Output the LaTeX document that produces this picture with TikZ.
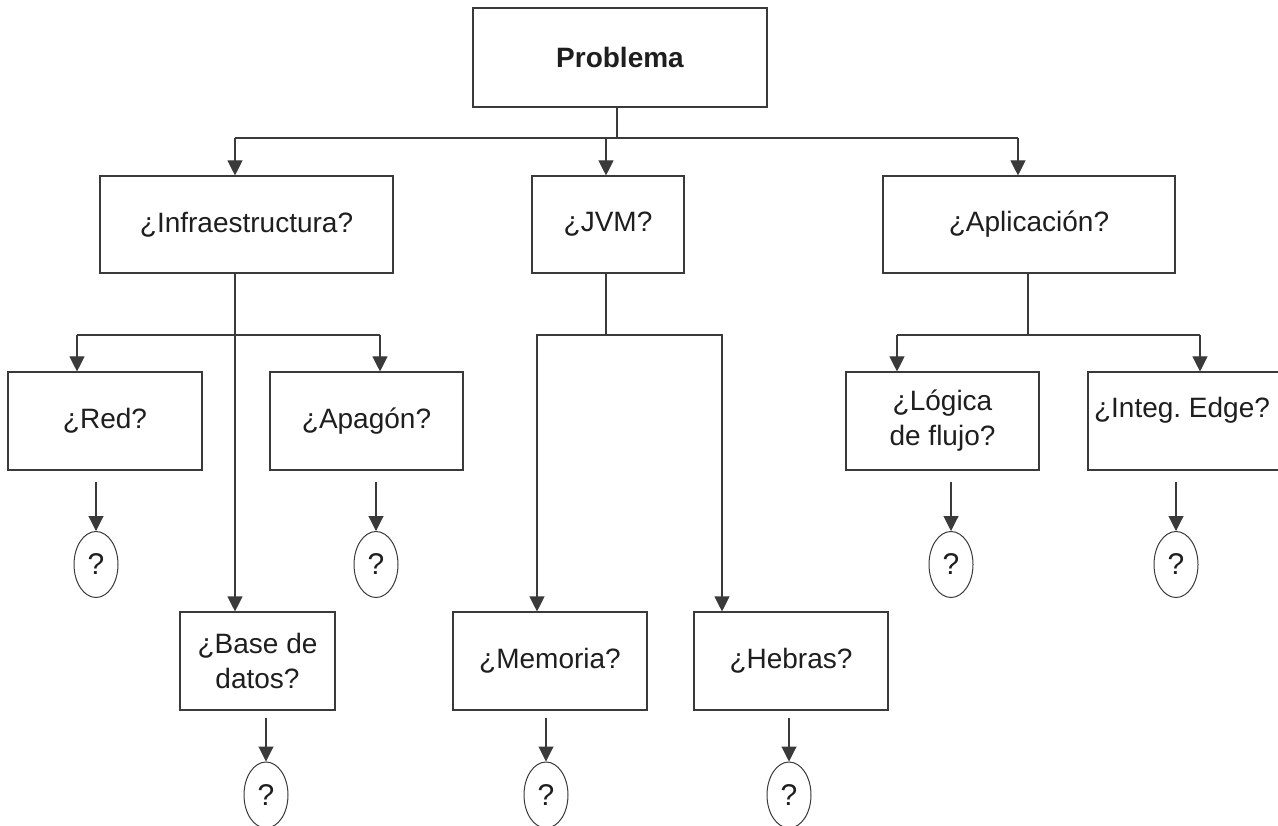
\documentclass[tikz,border=0pt]{standalone}
\usepackage{fontspec}
\setmainfont{Liberation Sans}
\usetikzlibrary{arrows.meta,shapes.geometric}
\definecolor{linec}{HTML}{3A3A3A}
\definecolor{textc}{HTML}{1E1E1E}
\frenchspacing
\begin{document}
\begin{tikzpicture}[x=1pt,y=-1pt,
  box/.style={draw=linec, line width=1.1pt, rectangle, inner sep=0pt, text=textc, align=center,
    font=\fontsize{28}{35}\selectfont},
  qell/.style={draw=linec, line width=1pt, ellipse, inner sep=0pt, minimum width=44pt, minimum height=66pt,
    text=textc, font=\fontsize{30}{34}\selectfont},
  conn/.style={draw=linec, line width=1.1pt},
  arr/.style={conn, -{Triangle[length=15pt,width=15pt]}},
  gaparr/.style={arr, shorten <=11pt}
]
\useasboundingbox (0,0) rectangle (1278,826);
\clip (0,0) rectangle (1278,826);
\fill[white] (0,0) rectangle (1278,826);

% boxes
\node[box, minimum width=294pt, minimum height=99pt] (prob) at (620,57.5) {\bfseries Problema};
\node[box, minimum width=293pt, minimum height=97pt] (infra) at (246.5,224.5) {¿Infraestructura?};
\node[box, minimum width=152pt, minimum height=97pt] (jvm) at (608,224.5) {¿JVM?};
\node[box, minimum width=292pt, minimum height=97pt] (apli) at (1029,224.5) {¿Aplicación?};
\node[box, minimum width=194pt, minimum height=98pt] (red) at (105,421) {¿Red?};
\node[box, minimum width=193pt, minimum height=98pt] (apag) at (366.5,421) {¿Apagón?};
\node[box, minimum width=193pt, minimum height=98pt] (logi) at (942.5,421) {¿Lógica\\de flujo?};
\node[box, minimum width=196pt, minimum height=98pt] (integ) at (1186,421) {};
\node[text=textc, font=\fontsize{28}{35}\selectfont, inner sep=0pt] (integT) at (1182,410) {¿Integ. Edge?};
\node[box, minimum width=155pt, minimum height=98pt] (base) at (257.5,661) {¿Base de\\datos?};
\node[box, minimum width=194pt, minimum height=98pt] (mem) at (550,661) {¿Memoria?};
\node[box, minimum width=194pt, minimum height=98pt] (heb) at (791,661) {¿Hebras?};

% ellipses
\node[qell] (ered) at (96,564.5) {?};
\node[qell] (eapag) at (376,564.5) {?};
\node[qell] (elog) at (951,564.5) {?};
\node[qell] (einteg) at (1176,564.5) {?};
\node[qell] (ebase) at (266,795) {?};
\node[qell] (emem) at (546,795) {?};
\node[qell] (eheb) at (789,795) {?};

% junction coordinates
\coordinate (j0) at (617,138);
\coordinate (hInfra) at (235,138);
\coordinate (hJvm) at (606,138);
\coordinate (hApli) at (1018,138);
\coordinate (bL) at (77,335);
\coordinate (bR) at (380,335);
\coordinate (jJ) at (606,335);
\coordinate (jL) at (537,335);
\coordinate (jR) at (722,335);
\coordinate (aJ) at (1028,335);
\coordinate (aL) at (897,335);
\coordinate (aR) at (1200,335);

% level 1
\draw[conn] (prob.south -| j0) -- (j0);
\draw[conn] (hInfra) -- (hApli);
\draw[arr] (hInfra) -- (infra.north -| hInfra);
\draw[arr] (hJvm) -- (jvm.north -| hJvm);
\draw[arr] (hApli) -- (apli.north -| hApli);

% infraestructura
\draw[arr] (infra.south -| hInfra) -- (base.north -| hInfra);
\draw[conn] (bL) -- (bR);
\draw[arr] (bL) -- (red.north -| bL);
\draw[arr] (bR) -- (apag.north -| bR);

% jvm
\draw[conn] (jvm.south -| jJ) -- (jJ);
\draw[arr] (jJ) -- (jL) -- (mem.north -| jL);
\draw[arr] (jJ) -- (jR) -- (heb.north -| jR);

% aplicacion
\draw[conn] (apli.south -| aJ) -- (aJ);
\draw[conn] (aL) -- (aR);
\draw[arr] (aL) -- (logi.north -| aL);
\draw[arr] (aR) -- (integ.north -| aR);

% to ellipses
\draw[gaparr] (red.south -| ered) -- (ered.north);
\draw[gaparr] (apag.south -| eapag) -- (eapag.north);
\draw[gaparr] (logi.south -| elog) -- (elog.north);
\draw[gaparr] (integ.south -| einteg) -- (einteg.north);
\draw[arr, shorten <=7pt] (base.south -| ebase) -- (ebase.north);
\draw[arr, shorten <=7pt] (mem.south -| emem) -- (emem.north);
\draw[arr, shorten <=7pt] (heb.south -| eheb) -- (eheb.north);
\end{tikzpicture}
\end{document}
